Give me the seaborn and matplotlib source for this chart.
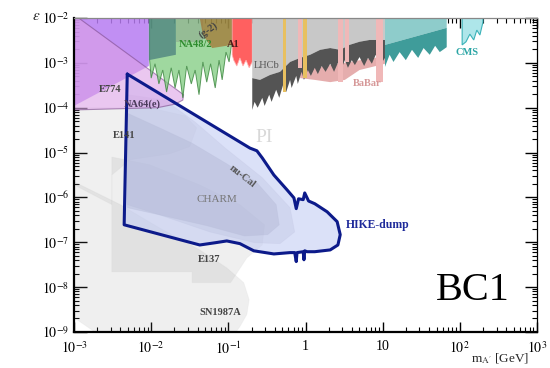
import numpy as np
import pandas as pd
import matplotlib
matplotlib.use("Agg")
import matplotlib.pyplot as plt
from matplotlib.ticker import FixedLocator, FixedFormatter, LogLocator, NullFormatter
import seaborn as sns

# values, stored as log10(m_A' / GeV) and log10(epsilon)

# HIKE-dump sensitivity contour
hike_lm = [-2.31, -2.35, -1.37, -1.17, -1.02, -0.85, -0.67, -0.41, -0.20, -0.14, -0.12, -0.11,
           -0.03, -0.02, -0.01, 0.02, 0.12, 0.32, 0.42, 0.45, 0.41, 0.28, 0.12, 0.04, -0.01,
           -0.03, -0.09, -0.12, -0.15, -0.24, -0.41, -0.56, -0.63, -0.72, -2.31]
hike_le = [-3.25, -6.61, -7.06, -7.01, -6.97, -7.03, -7.19, -7.26, -7.23, -7.23, -7.43, -7.23,
           -7.21, -7.39, -7.19, -7.21, -7.21, -7.17, -7.06, -6.83, -6.54, -6.32, -6.14, -6.08, -5.90,
           -6.05, -6.03, -6.25, -6.01, -5.83, -5.50, -5.12, -4.96, -4.90, -3.25]

# beam dump / astro grey regions
sn_lm = [-3.00, -2.40, -1.89, -1.37, -1.02, -0.80, -0.73, -0.76, -0.85, -0.90, -2.73, -3.00]
sn_le = [-5.65, -6.16, -6.68, -7.17, -7.57, -7.90, -8.28, -8.61, -8.88, -9.00, -9.00, -8.68]
e137_lm = [-2.51, -2.02, -1.37, -0.85, -0.53, -0.56, -0.76, -0.97, -1.47, -1.47, -2.51]
e137_le = [-5.10, -5.27, -5.72, -6.16, -6.61, -7.06, -7.35, -7.90, -7.90, -7.66, -7.66]
e141_lm = [-3.00, -2.02, -1.56, -1.41, -1.50, -1.76, -2.27, -2.51, -2.51, -3.00]
e141_le = [-4.00, -4.00, -4.18, -4.45, -4.87, -5.03, -5.16, -5.50, -6.16, -5.72]
nucal_lm = [-2.31, -1.82, -1.43, -1.04, -0.56, -0.20, -0.14, -0.33, -0.66, -1.24, -1.89, -2.31]
nucal_le = [-3.71, -3.83, -4.32, -4.90, -5.56, -6.23, -6.77, -7.03, -7.01, -6.77, -6.39, -6.16]
charm_lm = [-2.31, -1.89, -1.48, -1.04, -0.63, -0.38, -0.34, -0.49, -0.79, -1.28, -1.89, -2.31]
charm_le = [-4.12, -4.45, -4.78, -5.23, -5.67, -6.16, -6.61, -6.83, -6.86, -6.63, -6.39, -6.23]

# top band: visible / prompt searches
violet_lm = [-3.00, -2.03, -2.03, -3.00]
violet_le = [-2.00, -2.00, -3.07, -3.96]
na64_lm = [-3.00, -2.94, -1.58, -1.59, -1.69, -1.92, -3.00]
na64_le = [-2.00, -2.00, -3.71, -3.83, -3.92, -4.00, -4.05]
kloe_lm = [-2.03, -1.68, -1.68, -2.03]
kloe_le = [-2.00, -2.00, -2.82, -2.94]
grey_mid_lm = [-1.68, -1.33, -1.33, -1.68]
grey_mid_le = [-2.00, -2.00, -2.53, -2.53]
na48_lm = [-2.02, -0.95, -0.95, -0.99, -1.03, -1.08, -1.12, -1.17, -1.23, -1.28, -1.33, -1.38,
           -1.43, -1.48, -1.54, -1.59, -1.64, -1.69, -1.74, -1.80, -1.85, -1.90, -1.95, -2.00, -2.02]
na48_le = [-2.00, -2.00, -2.49, -2.98, -2.76, -3.38, -2.94, -3.56, -3.02, -3.43, -2.98, -3.71,
           -3.16, -3.47, -3.07, -3.78, -3.16, -3.56, -3.11, -3.65, -3.16, -3.47, -3.02, -3.34, -2.94]
g2_lm = [-1.37, -0.95, -0.95, -1.21, -1.33]
g2_le = [-2.00, -2.00, -2.60, -2.67, -2.38]
a1_lm = [-0.95, -0.69, -0.69, -0.73, -0.77, -0.81, -0.85, -0.89, -0.93, -0.95]
a1_le = [-2.00, -2.00, -2.98, -3.11, -2.94, -3.07, -2.89, -3.07, -2.94, -2.82]
lhcb_top_lm = [-0.69, -0.59, -0.46, -0.33, -0.20, -0.07, 0.06, 0.19, 0.32, 0.45, 0.57, 0.70, 0.83, 1.03]
lhcb_top_le = [-3.34, -3.38, -3.27, -3.20, -2.98, -2.89, -2.82, -2.71, -2.67, -2.71, -2.60, -2.53, -2.49, -2.49]
lhcb_bot_lm = [1.03, 0.96, 0.91, 0.86, 0.81, 0.76, 0.70, 0.64, 0.60, 0.55, 0.51, 0.46, 0.42, 0.37,
               0.32, 0.26, 0.21, 0.16, 0.12, 0.07, 0.03, -0.02, -0.05, -0.10, -0.12, -0.18, -0.20,
               -0.25, -0.29, -0.34, -0.38, -0.44, -0.47, -0.53, -0.56, -0.62, -0.66, -0.69]
lhcb_bot_le = [-2.89, -3.07, -2.82, -3.02, -2.89, -3.07, -2.87, -3.05, -2.94, -3.11, -2.94, -3.16,
               -3.00, -3.20, -3.02, -3.20, -3.07, -3.25, -3.11, -3.29, -3.16, -3.38, -3.20, -3.47,
               -3.29, -3.56, -3.38, -3.65, -3.49, -3.78, -3.60, -3.87, -3.71, -3.96, -3.78, -4.00,
               -3.87, -4.05]
babar_lm = [-0.07, 1.03, 1.03, 0.70, 0.51, 0.32, 0.12, -0.07]
babar_le = [-3.16, -2.85, -3.02, -3.16, -3.38, -3.43, -3.38, -3.34]
stripe_lo = [-0.29, -0.10, -0.03, 0.42, 0.51, 0.92]
stripe_hi = [-0.25, -0.05, 0.02, 0.48, 0.57, 1.00]
stripe_bottom = [-3.65, -3.11, -3.34, -3.43, -2.98, -3.43]
stripe_kind = ["yellow", "pink", "yellow", "pink", "pink", "pink"]
teal_lm = [1.03, 1.83, 1.83, 1.03]
teal_le = [-2.00, -2.00, -2.22, -2.60]
teal_bot_lm = [1.83, 1.74, 1.68, 1.61, 1.53, 1.46, 1.38, 1.30, 1.22, 1.14, 1.09, 1.03]
teal_bot_le = [-2.65, -2.76, -2.62, -2.82, -2.67, -2.89, -2.71, -2.94, -2.76, -2.98, -2.82, -3.09]
cms_lm = [2.03, 2.30, 2.30, 2.26, 2.22, 2.18, 2.13, 2.08, 2.03]
cms_le = [-2.00, -2.00, -2.09, -2.38, -2.27, -2.49, -2.36, -2.53, -2.60]

x_ticks = [-3, -2, -1, 0, 1, 2, 3]
x_labels = [r"$10^{-3}$", r"$10^{-2}$", r"$10^{-1}$", "1", "10", r"$10^{2}$", r"$10^{3}$"]
y_ticks = [-9, -8, -7, -6, -5, -4, -3, -2]
y_labels = [r"$10^{-9}$", r"$10^{-8}$", r"$10^{-7}$", r"$10^{-6}$", r"$10^{-5}$",
            r"$10^{-4}$", r"$10^{-3}$", r"$10^{-2}$"]


def region(ax, lm, le, **kw):
    ax.fill(10 ** np.array(lm), 10 ** np.array(le), **kw)


sns.set_theme(style="ticks")
plt.rcParams["font.family"] = ["Liberation Serif", "DejaVu Serif"]
plt.rcParams["mathtext.fontset"] = "stix"

fig = plt.figure(figsize=(5.5, 3.68), dpi=100)
ax = fig.add_axes([74 / 550, 1 - 332 / 368, 463 / 550, 314 / 368])
ax.set_xscale("log")
ax.set_yscale("log")
ax.set_xlim(1e-3, 1e3)
ax.set_ylim(1e-9, 1e-2)

grey_edge = dict(edgecolor="#c4c4c4", linewidth=0.6)
region(ax, sn_lm, sn_le, facecolor="#888888", alpha=0.13, **grey_edge)
region(ax, e137_lm, e137_le, facecolor="#888888", alpha=0.13, **grey_edge)
region(ax, e141_lm, e141_le, facecolor="#888888", alpha=0.12, **grey_edge)
region(ax, nucal_lm, nucal_le, facecolor="#7a7a95", alpha=0.2, edgecolor="#a8a8b8", linewidth=0.6)
region(ax, charm_lm, charm_le, facecolor="#6e6e80", alpha=0.28, edgecolor="#9c9cac", linewidth=0.6)

region(ax, hike_lm, hike_le, facecolor="#c4cdf4", alpha=0.6, linewidth=0)

# top band
region(ax, violet_lm, violet_le, facecolor="#b77cf2", alpha=0.85, linewidth=0)
region(ax, na64_lm, na64_le, facecolor="#dca2e6", alpha=0.6, edgecolor="#7c4a8c", linewidth=0.8)
region(ax, na48_lm, na48_le, facecolor="#7fcc7f", alpha=0.75, edgecolor="#2f7d32", linewidth=0.7)
region(ax, kloe_lm, kloe_le, facecolor="#4f8480", alpha=0.8, linewidth=0)
region(ax, grey_mid_lm, grey_mid_le, facecolor="#8a9a8a", alpha=0.45, linewidth=0)
region(ax, g2_lm, g2_le, facecolor="#a4702e", alpha=0.7, linewidth=0)
region(ax, a1_lm, a1_le, facecolor="#ff4f4f", alpha=0.9, edgecolor="#ffb0b0", linewidth=0.6)
region(ax, babar_lm, babar_le, facecolor="#e3a4a4", alpha=0.9, linewidth=0)
region(ax, lhcb_top_lm + [1.03, -0.69], lhcb_top_le + [-2.0, -2.0], facecolor="#c8c8c8", linewidth=0)
region(ax, lhcb_top_lm + lhcb_bot_lm, lhcb_top_le + lhcb_bot_le, facecolor="#545454", linewidth=0)
stripe_colors = {"yellow": "#e8c060", "pink": "#f0b8b8"}
for lo, hi, bot, kind in zip(stripe_lo, stripe_hi, stripe_bottom, stripe_kind):
    region(ax, [lo, hi, hi, lo], [-2.0, -2.0, bot, bot], facecolor=stripe_colors[kind], linewidth=0)
region(ax, teal_lm, teal_le, facecolor="#8ecccb", linewidth=0)
region(ax, [1.03, 1.83] + teal_bot_lm, [-2.60, -2.22] + teal_bot_le, facecolor="#3f9c9a", linewidth=0)
region(ax, cms_lm, cms_le, facecolor="#aee6ea", edgecolor="#3ab2b8", linewidth=0.8)

# HIKE outline
hike = pd.DataFrame({"m": 10 ** np.array(hike_lm), "eps": 10 ** np.array(hike_le)})
sns.lineplot(data=hike, x="m", y="eps", sort=False, estimator=None, color="#0c1a8a",
             linewidth=2.2, ax=ax)

# labels
lab = dict(fontweight="bold", fontsize=7.5, ha="center", va="center")
ax.text(10 ** -2.53, 10 ** -3.60, "E774", color="#444444", **lab)
ax.text(10 ** -2.12, 10 ** -3.92, "NA64(e)", color="#4a3a5a", **lab)
ax.text(10 ** -2.35, 10 ** -4.61, "E141", color="#444444", **lab)
ax.text(10 ** -0.82, 10 ** -5.54, "nu-Cal", color="#555555", rotation=-38, **lab)
ax.text(10 ** -1.15, 10 ** -6.05, "CHARM", color="#777777", fontsize=8, ha="center", va="center")
ax.text(10 ** -1.25, 10 ** -7.39, "E137", color="#444444", **lab)
ax.text(10 ** -1.11, 10 ** -8.57, "SN1987A", color="#444444", **lab)
ax.text(10 ** 0.94, 10 ** -6.61, "HIKE-dump", color="#1e2a9a", fontweight="bold", fontsize=8.5,
        ha="center", va="center")
ax.text(10 ** -1.43, 10 ** -2.60, "NA48/2", color="#2e8b2e", **lab)
ax.text(10 ** -0.94, 10 ** -2.60, "A1", color="#4a1a1a", **lab)
ax.text(10 ** -1.26, 10 ** -2.27, "(g-2)", color="#444444", rotation=35, **lab)
ax.text(10 ** -0.51, 10 ** -3.07, "LHCb", color="#555555", fontsize=7.5, ha="center", va="center")
ax.text(10 ** 0.80, 10 ** -3.45, "BaBar", color="#d69898", **lab)
ax.text(10 ** 2.10, 10 ** -2.78, "CMS", color="#2aa5a5", **lab)
ax.text(10 ** -0.53, 10 ** -4.67, "PI", color="#d8d8d8", fontsize=14, ha="center", va="center")
ax.text(10 ** 2.17, 10 ** -8.08, "BC1", color="black", fontsize=29, ha="center", va="center")

# axes cosmetics
ax.xaxis.set_major_locator(FixedLocator([10.0 ** t for t in x_ticks]))
ax.xaxis.set_major_formatter(FixedFormatter(x_labels))
ax.yaxis.set_major_locator(FixedLocator([10.0 ** t for t in y_ticks]))
ax.yaxis.set_major_formatter(FixedFormatter(y_labels))
for axis in (ax.xaxis, ax.yaxis):
    axis.set_minor_locator(LogLocator(base=10, subs=np.arange(2, 10), numticks=20))
    axis.set_minor_formatter(NullFormatter())
ax.tick_params(which="both", direction="in", top=True, right=True, labelsize=10, colors="black")
ax.tick_params(which="major", length=7, width=1.0)
ax.tick_params(axis="y", which="major", length=9)
ax.tick_params(which="minor", length=3.5, width=0.8)
ax.tick_params(axis="x", pad=6)
for side in ("left", "bottom"):
    ax.spines[side].set_linewidth(1.6)
    ax.spines[side].set_color("black")
ax.spines["right"].set_linewidth(0.9)
ax.spines["right"].set_color("black")
ax.spines["top"].set_linewidth(0.9)
ax.spines["top"].set_color("#888888")
ax.set_xlabel("")
ax.set_ylabel("")
ax.grid(False)

fig.text(36 / 550, 1 - 17 / 368, r"$\epsilon$", fontsize=11, ha="center", va="center")
fig.text(500 / 550, 1 - 359 / 368, r"m$_{\mathrm{A}^{\prime}}$ [GeV]", fontsize=9.5,
         ha="center", va="center")

fig.savefig("out.png", dpi=100, facecolor="white")
